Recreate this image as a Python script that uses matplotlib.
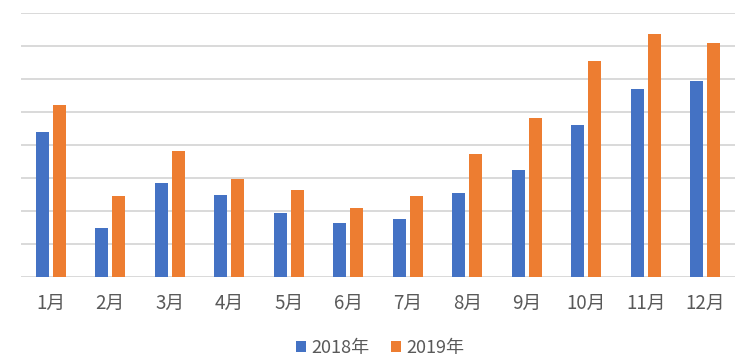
import numpy as np
import matplotlib.pyplot as plt

plt.rcParams['font.family'] = ['Noto Sans CJK SC', 'DejaVu Sans']

months = ['1月', '2月', '3月', '4月', '5月', '6月',
          '7月', '8月', '9月', '10月', '11月', '12月']
sales_2018 = [438, 148, 284, 248, 193, 163, 175, 254, 323, 460, 569, 593]
sales_2019 = [520, 245, 381, 296, 263, 208, 245, 372, 481, 654, 736, 708]

blue = '#4472c4'
orange = '#ed7d31'
grid_c = '#d9d9d9'
text_c = '#595959'

fig = plt.figure(figsize=(7.55, 3.63), dpi=100)
ax = fig.add_axes([21/755, 1 - 276.7/363, 714/755, 264/363])

x = np.arange(len(months))
w = 0.22
ax.bar(x - 0.144, sales_2018, w, color=blue, label='2018年', zorder=3)
ax.bar(x + 0.144, sales_2019, w, color=orange, label='2019年', zorder=3)

ax.set_xlim(-0.5, len(months) - 0.5)
ax.set_ylim(0, 800)
ax.set_yticks(np.arange(0, 801, 100))
ax.yaxis.grid(True, color=grid_c, linewidth=1.4)
ax.set_axisbelow(True)
ax.tick_params(axis='y', left=False, labelleft=False)
ax.tick_params(axis='x', length=0, pad=12, labelsize=13.5, labelcolor=text_c)
ax.set_xticks(x)
ax.set_xticklabels(months)
for s in ax.spines.values():
    s.set_visible(False)

fig.legend(loc='center', bbox_to_anchor=(380/755, 1 - 348/363), ncol=2,
           frameon=False, fontsize=13, labelcolor=text_c,
           handlelength=0.55, handleheight=0.55, handletextpad=0.3,
           columnspacing=1.2)

fig.savefig('out.png', dpi=100)
